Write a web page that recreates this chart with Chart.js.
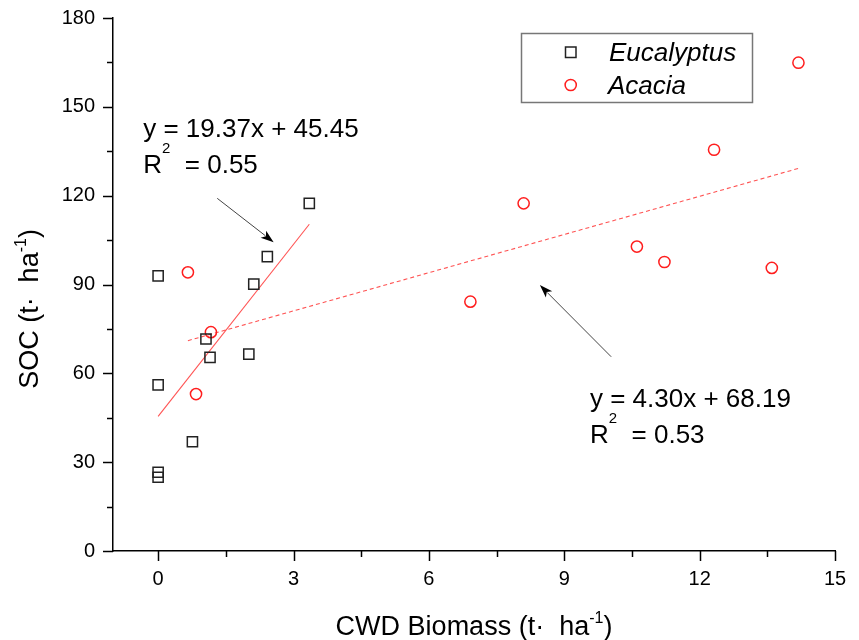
<!DOCTYPE html>
<html><head><meta charset="utf-8">
<script src="https://cdn.jsdelivr.net/npm/chart.js@4.4.1/dist/chart.umd.min.js"></script>
<style>html,body{margin:0;padding:0;background:#fff}#wrap{width:859px;height:640px}</style>
</head><body><div id="wrap"><canvas id="c" width="859" height="640"></canvas></div>
<script>
// ---- data ----
const seriesNames = ['Eucalyptus', 'Acacia'];
const eucX = [0, 0, 0, 0, 0.76, 1.06, 1.15, 2.01, 2.12, 2.42, 3.35];
const eucY = [92.9, 56.1, 26.6, 24.9, 36.9, 71.6, 65.4, 66.5, 90.1, 99.4, 117.4];
const acaX = [0.66, 0.84, 1.17, 6.92, 8.10, 10.61, 11.22, 12.32, 13.60, 14.19];
const acaY = [94.1, 53.0, 73.9, 84.2, 117.4, 102.8, 97.6, 135.5, 95.6, 164.9];
const fitSlope = [19.37, 4.30];
const fitIntercept = [45.45, 68.19];
const fitR2 = ['0.55', '0.53'];
const xTicks = [0, 3, 6, 9, 12, 15];
const xMinorTicks = [1.5, 4.5, 7.5, 10.5, 13.5];
const yTicks = [0, 30, 60, 90, 120, 150, 180];
const yMinorTicks = [15, 45, 75, 105, 135, 165];
// equation labels: anchor (data coords) and arrows (data coords, from -> to)
const eqLabelX = [-0.33, 9.57];
const eqLabelY = [139.9, 48.7];
const arrowFromX = [1.31, 10.04];
const arrowFromY = [119.1, 65.6];
const arrowToX = [2.56, 8.46];
const arrowToY = [104.3, 89.8];

const toPts = (xs, ys) => xs.map((x, i) => ({x: x, y: ys[i]}));
const fitLine = (xs, k) => {
  const lo = Math.min(...xs), hi = Math.max(...xs);
  return [{x: lo, y: fitSlope[k] * lo + fitIntercept[k]}, {x: hi, y: fitSlope[k] * hi + fitIntercept[k]}];
};

const FONT = "'Liberation Sans', Arial, sans-serif";
const RED = 'rgb(255,30,30)';
const DARK = '#222';

function textWithSup(ctx, parts, x, y, align) {
  let total = 0;
  parts.forEach(p => { ctx.font = (p.style || '') + p.size + 'px ' + FONT; p.w = ctx.measureText(p.t).width; total += p.w; });
  let cx = align === 'center' ? x - total / 2 : x;
  parts.forEach(p => {
    ctx.font = (p.style || '') + p.size + 'px ' + FONT;
    ctx.fillText(p.t, cx, y - (p.raise || 0));
    cx += p.w;
  });
}

const annot = {
  id: 'annot',
  afterDraw(chart) {
    const ctx = chart.ctx, xs = chart.scales.x, ys = chart.scales.y, a = chart.chartArea;
    ctx.save();
    // ticks
    ctx.strokeStyle = '#000'; ctx.lineWidth = 1.5;
    const tick = (v, len, isX) => {
      ctx.beginPath();
      if (isX) { const p = Math.round(xs.getPixelForValue(v)) + 0.5; ctx.moveTo(p, a.bottom); ctx.lineTo(p, a.bottom + len); }
      else { const p = Math.round(ys.getPixelForValue(v)) + 0.5; ctx.moveTo(a.left, p); ctx.lineTo(a.left - len, p); }
      ctx.stroke();
    };
    xTicks.forEach(v => tick(v, 10, true));
    xMinorTicks.forEach(v => tick(v, 6, true));
    yTicks.forEach(v => tick(v, 10, false));
    yMinorTicks.forEach(v => tick(v, 6, false));

    // arrows
    for (let i = 0; i < arrowFromX.length; i++) {
      const x1 = xs.getPixelForValue(arrowFromX[i]), y1 = ys.getPixelForValue(arrowFromY[i]);
      const x2 = xs.getPixelForValue(arrowToX[i]), y2 = ys.getPixelForValue(arrowToY[i]);
      const ang = Math.atan2(y2 - y1, x2 - x1), L = 13, W = 4.5;
      ctx.strokeStyle = '#444'; ctx.lineWidth = 1;
      ctx.beginPath(); ctx.moveTo(x1, y1); ctx.lineTo(x2 - Math.cos(ang) * L * 0.8, y2 - Math.sin(ang) * L * 0.8); ctx.stroke();
      ctx.fillStyle = '#000';
      ctx.beginPath();
      ctx.moveTo(x2, y2);
      ctx.lineTo(x2 - Math.cos(ang) * L - Math.sin(ang) * W, y2 - Math.sin(ang) * L + Math.cos(ang) * W);
      ctx.lineTo(x2 - Math.cos(ang) * L * 0.75, y2 - Math.sin(ang) * L * 0.75);
      ctx.lineTo(x2 - Math.cos(ang) * L + Math.sin(ang) * W, y2 - Math.sin(ang) * L - Math.cos(ang) * W);
      ctx.closePath(); ctx.fill();
    }

    // equation labels
    ctx.fillStyle = '#000'; ctx.textBaseline = 'alphabetic'; ctx.textAlign = 'left';
    for (let i = 0; i < eqLabelX.length; i++) {
      const px = xs.getPixelForValue(eqLabelX[i]), py = ys.getPixelForValue(eqLabelY[i]);
      ctx.font = '26px ' + FONT;
      ctx.fillText('y = ' + fitSlope[i].toFixed(2) + 'x + ' + fitIntercept[i].toFixed(2), px, py);
      textWithSup(ctx, [
        {t: 'R', size: 26},
        {t: '2', size: 15, raise: 20},
        {t: '  = ' + fitR2[i], size: 26}
      ], px, py + 36.6, 'left');
    }

    // legend
    const lx = 521.5, ly = 33.5, lw = 231, lh = 69;
    ctx.strokeStyle = '#777'; ctx.lineWidth = 1.5;
    ctx.strokeRect(lx, ly, lw, lh);
    ctx.strokeStyle = DARK; ctx.lineWidth = 1.5;
    ctx.strokeRect(565.5, 47, 10.5, 10.5);
    ctx.strokeStyle = RED;
    ctx.beginPath(); ctx.arc(570.7, 85, 5.6, 0, Math.PI * 2); ctx.stroke();
    ctx.fillStyle = '#000'; ctx.font = 'italic 26px ' + FONT;
    ctx.fillText(seriesNames[0], 609, 61);
    ctx.fillText(seriesNames[1], 608, 93.5);

    // axis titles
    textWithSup(ctx, [
      {t: 'CWD Biomass (t\u00B7  ha', size: 27},
      {t: '-1', size: 16, raise: 12},
      {t: ')', size: 27}
    ], (a.left + a.right) / 2, 635, 'center');
    ctx.save();
    ctx.translate(38, 309);
    ctx.rotate(-Math.PI / 2);
    textWithSup(ctx, [
      {t: 'SOC (t\u00B7  ha', size: 27},
      {t: '-1', size: 16, raise: 12},
      {t: ')', size: 27}
    ], 0, 0, 'center');
    ctx.restore();
    ctx.restore();
  }
};

new Chart(document.getElementById('c'), {
  type: 'scatter',
  data: {
    datasets: [
      {label: seriesNames[0], data: toPts(eucX, eucY), pointStyle: 'rect', pointRadius: 7.2, pointHoverRadius: 7.2,
       backgroundColor: 'rgba(0,0,0,0)', borderColor: DARK, borderWidth: 1.5, order: 1},
      {label: seriesNames[1], data: toPts(acaX, acaY), pointStyle: 'circle', pointRadius: 5.6, pointHoverRadius: 5.6,
       backgroundColor: 'rgba(0,0,0,0)', borderColor: RED, borderWidth: 1.5, order: 2},
      {label: 'fit1', data: fitLine(eucX, 0), showLine: true, pointRadius: 0, borderColor: 'rgba(255,40,40,0.8)',
       borderWidth: 1.1, order: 3},
      {label: 'fit2', data: fitLine(acaX, 1), showLine: true, pointRadius: 0, borderColor: 'rgba(255,40,40,0.8)',
       borderWidth: 1.1, borderDash: [4, 3], order: 4}
    ]
  },
  options: {
    responsive: false, animation: false, devicePixelRatio: 1,
    layout: {padding: {top: 18, right: 24, left: 0, bottom: 0}},
    plugins: {legend: {display: false}, tooltip: {enabled: false}},
    scales: {
      x: {
        type: 'linear', min: -1, max: 15,
        afterBuildTicks: s => { s.ticks = xTicks.map(v => ({value: v})); },
        afterFit: s => { s.height = 89; s.paddingLeft = 0; s.paddingRight = 0; },
        grid: {display: false, drawTicks: false},
        border: {display: true, color: '#000', width: 1.5},
        ticks: {color: '#000', padding: 16, font: {family: FONT, size: 20}, maxRotation: 0}
      },
      y: {
        type: 'linear', min: 0, max: 180,
        afterBuildTicks: s => { s.ticks = yTicks.map(v => ({value: v})); },
        afterFit: s => { s.width = 113; s.paddingTop = 0; s.paddingBottom = 0; },
        grid: {display: false, drawTicks: false},
        border: {display: true, color: '#000', width: 1.5},
        ticks: {color: '#000', padding: 18, font: {family: FONT, size: 20}}
      }
    }
  },
  plugins: [annot]
});
</script>
</body></html>
